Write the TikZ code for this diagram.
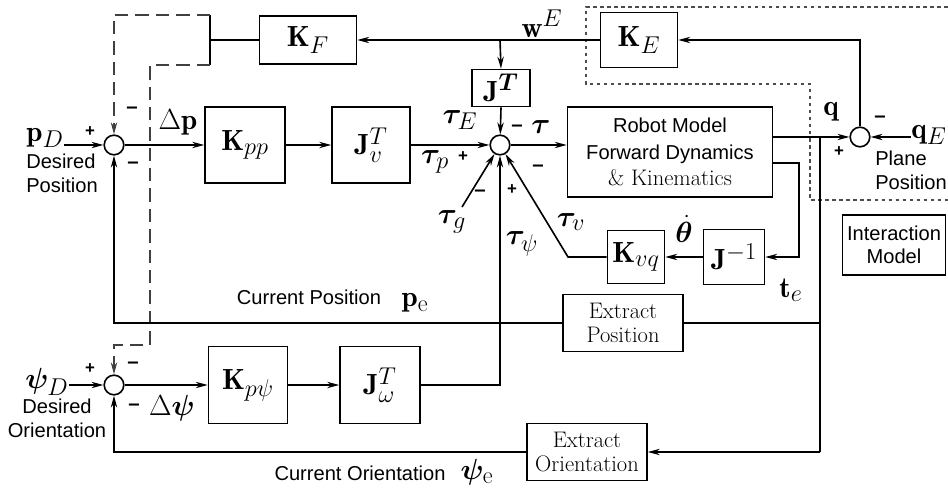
\documentclass[tikz,border=0pt]{standalone}
\usepackage{amsmath,bm}
\usepackage{fontspec}
\newfontfamily\sansF{Liberation Sans}
\usetikzlibrary{arrows.meta,calc}
\DeclareMathSizes{20.74}{20.74}{17.28}{12}
\newcommand\fMath{\fontsize{20.74}{24}\selectfont}
\newcommand\fLab{\fontsize{20.74}{24}\selectfont}
\newcommand\fSans{\sansF\fontsize{14.3}{16.5}\selectfont}
\newcommand\fSerif{\fontsize{16}{17.5}\selectfont}
\newcommand\fSign{\sansF\bfseries\fontsize{12}{14}\selectfont}
\newcommand\fMinus{\sansF\bfseries\fontsize{14.5}{16}\selectfont}
\begin{document}
\begin{tikzpicture}[x=0.25mm,y=-0.25mm,
  ln/.style={line width=1.15pt},
  arr/.style={ln,-{Stealth[length=8.5pt,width=4.5pt]}},
  box/.style={draw,ln,inner sep=0pt,font=\fMath,fill=white},
  wh/.style 2 args={minimum width={#1*0.25mm},minimum height={#2*0.25mm}},
  sumc/.style={circle,draw,ln,minimum size=4.9mm,inner sep=0pt,fill=white},
  dsh/.style={line width=1.25pt,draw=black!75,dash pattern=on 9.5pt off 5pt},
  dotb/.style={line width=0.9pt,draw=black!70,dash pattern=on 2.5pt off 2.5pt},
  lab/.style={font=\fLab,inner sep=0pt},
  sgn/.style={font=\fSign,inner sep=0pt},
  mns/.style={font=\fMinus,inner sep=0pt},
  txt/.style={font=\fSans,inner sep=0pt},
]
\useasboundingbox (0,0) rectangle (948,492);

% interaction boundary
\draw[dotb] (948,7) -- (586,7) -- (586,84) -- (810,84) -- (810,200) -- (948,200);

% boxes
\node[box,wh={97}{48}] (KF) at (308,40) {$\mathbf{K}_F$};
\node[box,wh={77}{55}] (KE) at (639,40) {$\mathbf{K}_E$};
\node[box,wh={58}{37}] (JT) at (501,88) {$\mathbf{J}^{\bm{T}}$};
\node[box,wh={80}{76}] (Kpp) at (245,145) {$\mathbf{K}_{pp}$};
\node[box,wh={78}{76}] (Jv) at (371,145) {$\mathbf{J}_v^T$};
\node[box,wh={205}{90},align=center,font={\sansF\fontsize{14.3}{19}\selectfont}] (Robot) at (670,152)
  {Robot Model\\Forward Dynamics\\{\rmfamily\fontsize{16}{19}\selectfont\& Kinematics}};
\node[box,wh={61}{55}] (Jinv) at (734,257) {$\mathbf{J}^{-1}$};
\node[box,wh={57}{53}] (Kvq) at (636,257) {$\mathbf{K}_{vq}$};
\node[box,wh={120}{57},align=center,font=\fSerif] (ExtPos) at (623,323) {Extract\\Position};
\node[box,wh={79}{77}] (Kpsi) at (248,385) {$\mathbf{K}_{p\psi}$};
\node[box,wh={80}{77}] (Jw) at (380,385) {$\mathbf{J}_\omega^T$};
\node[box,wh={120}{57},align=center,font=\fSerif] (ExtOri) at (587,452) {Extract\\Orientation};
\node[box,wh={103}{60},align=center,font=\fSans] (Inter) at (894,245) {Interaction\\Model};

% summing junctions
\node[sumc] (s1) at (114,145) {};
\node[sumc] (s2) at (114,385) {};
\node[sumc] (s3) at (500,145) {};
\node[sumc] (s4) at (860,137) {};

% coordinates
\coordinate (bw) at (500,40);
\coordinate (brT) at (210,15);
\coordinate (brB) at (210,65);
\coordinate (brM) at (210,40);
\coordinate (tg) at (462,207);
\coordinate (tvk) at (568,257);
\coordinate (rout) at (799,163);
\coordinate (qb) at (820,137);
\coordinate (tpsi) at (500,385);

% labels
\node[lab] (pD) at (45,138) {$\mathbf{p}_D$};
\node[lab] (psiD) at (47,382) {$\bm{\psi}_D$};
\node[lab] (qE) at (929,135) {$\mathbf{q}_E$};
\node[lab] at (178,122) {$\Delta\mathbf{p}$};
\node[lab] at (542,24) {$\mathbf{w}^E$};
\node[lab] at (460,120) {$\bm{\tau}_E$};
\node[lab] at (541,127) {$\bm{\tau}$};
\node[lab] at (435,162) {$\bm{\tau}_p$};
\node[lab] at (452,222) {$\bm{\tau}_g$};
\node[lab] at (522,244) {$\bm{\tau}_\psi$};
\node[lab] at (571,222) {$\bm{\tau}_v$};
\node[lab] at (684,229) {$\dot{\bm{\theta}}$};
\node[lab] at (791,290) {$\mathbf{t}_e$};
\node[lab] at (831,112) {$\mathbf{q}$};
\node[lab] at (415,303) {$\mathbf{p}_{\mathrm{e}}$};
\node[lab] at (477,472) {$\bm{\psi}_{\mathrm{e}}$};
\node[lab] at (172,408) {$\Delta\bm{\psi}$};

\node[txt,align=left,anchor=north west] at (26,154) {Desired\\Position};
\node[txt,align=center,anchor=north] at (57,399) {Desired\\Orientation};
\node[txt,align=left,anchor=north west] at (875,151) {Plane\\Position};
\node[txt] at (309,297) {Current Position};
\node[txt] at (360,473) {Current Orientation};

% signs
\node[sgn] at (90,132) {+};
\node[mns] at (132,110) {\textendash};
\node[mns] at (133,165) {\textendash};
\node[sgn] at (90,369) {+};
\node[mns] at (133,365) {\textendash};
\node[mns] at (134,407) {\textendash};
\node[mns] at (517,128) {\textendash};
\node[sgn] at (463,157) {+};
\node[mns] at (480,193) {\textendash};
\node[sgn] at (512,190) {+};
\node[mns] at (538,168) {\textendash};
\node[mns] at (880,119) {\textendash};
\node[sgn] at (839,152) {+};

% main forward path
\draw[arr] (pD.east |- s1) -- (s1);
\draw[arr] (s1) -- (Kpp);
\draw[arr] (Kpp) -- (Jv);
\draw[arr] (Jv) -- (s3);
\draw[arr] (s3) -- (Robot.west |- s3);
\draw[arr] (Robot.east |- s4) -- (s4);
\draw[arr] (qE.west |- s4) -- (s4);
\draw[arr] (s4) |- (KE.east);
\draw[arr] (KE.west) -- (KF.east);
\draw[arr] (bw) -- (JT.north);
\draw[arr] (JT.south) -- (s3);

% force feedback bracket and dashed lines
\draw[ln] (KF.west) -- (brM);
\draw[line width=1.4pt] (brT) -- (brB);
\draw[dsh,-{Stealth[length=8.5pt,width=4.5pt]}] (brT) -- (brT -| s1) -- (s1);
\draw[dsh,-{Stealth[length=8.5pt,width=4.5pt]}] (brB) -- (150,65) -- (150,345) -- (114,345) -- (s2);

% velocity loop
\draw[arr] (Robot.east |- rout) -- (rout) |- (Jinv.east);
\draw[arr] (Jinv) -- (Kvq);
\draw[arr] (Kvq.west) -- (tvk) -- (s3);
\draw[arr] (tg) -- (s3);

% orientation path
\draw[arr] (psiD.east |- s2) -- (s2);
\draw[arr] (s2) -- (Kpsi);
\draw[arr] (Kpsi) -- (Jw);
\draw[arr] (Jw.east) -- (tpsi) -- (s3);

% feedback
\draw[ln] (qb) -- (qb |- ExtOri);
\draw[arr] (qb |- ExtOri) -- (ExtOri.east);
\draw[ln] (ExtPos.east) -- (ExtPos.east -| qb);
\draw[arr] (ExtPos.west) -- (ExtPos.west -| s1) -- (s1);
\draw[arr] (ExtOri.west) -- (ExtOri.west -| s2) -- (s2);
\end{tikzpicture}
\end{document}
